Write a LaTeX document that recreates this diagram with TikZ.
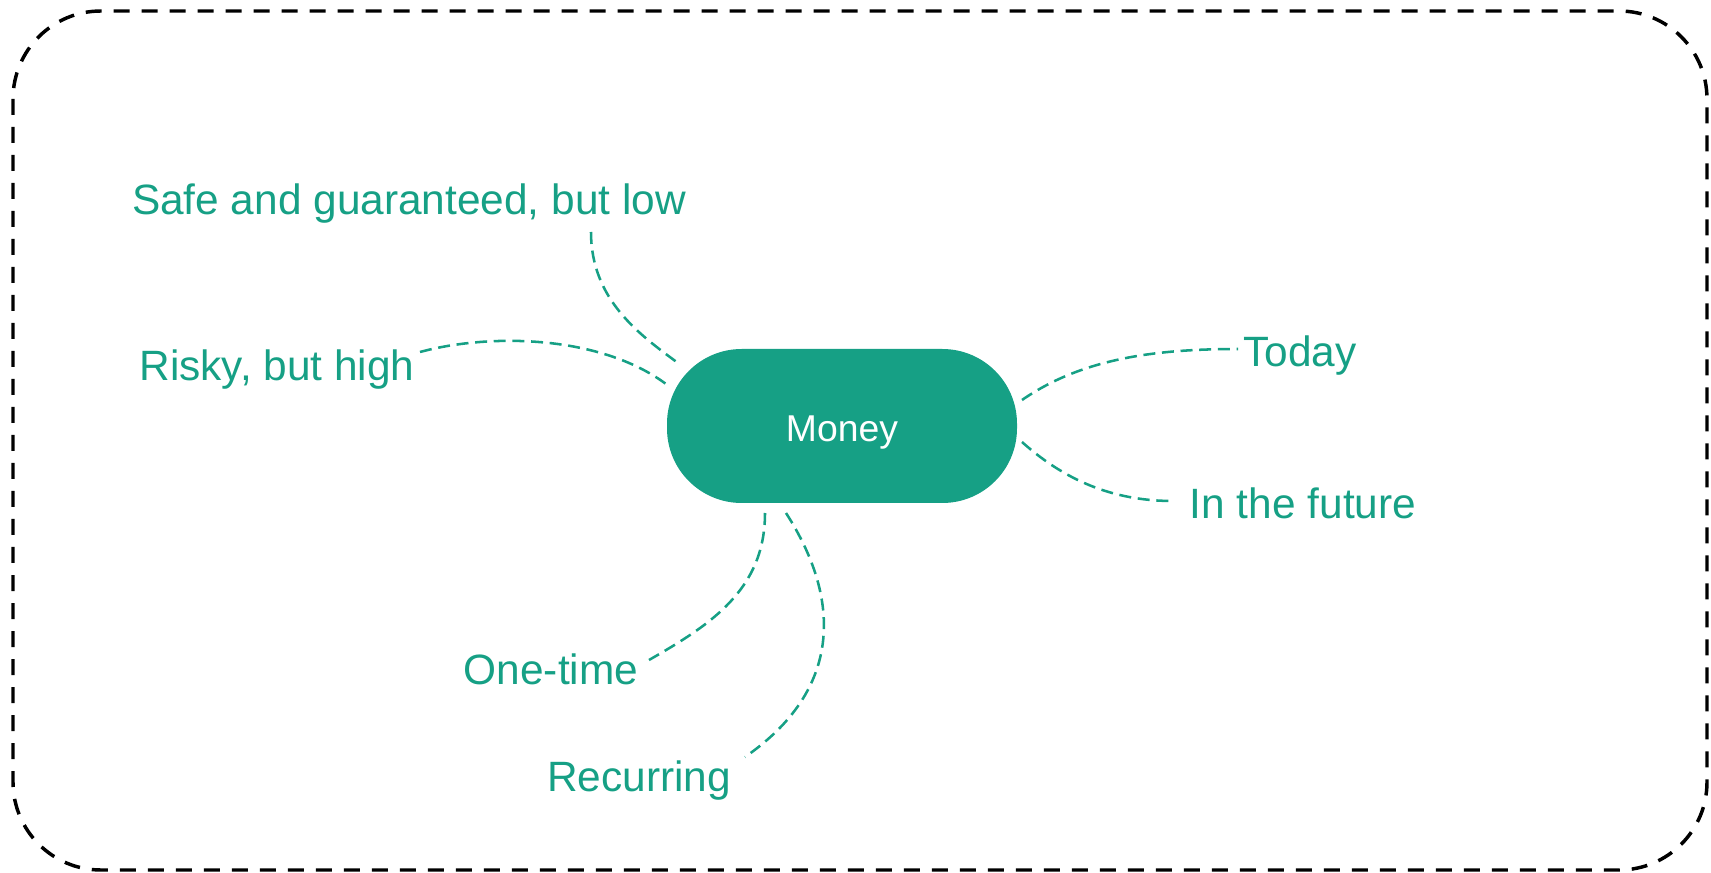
\documentclass[tikz,border=0pt]{standalone}
\usepackage{fontspec}
\setmainfont{Liberation Sans}
\definecolor{teal1}{RGB}{22,160,133}
\begin{document}
\begin{tikzpicture}[x=0.75pt,y=-0.75pt,
  frame/.style={draw=black,line width=2.6pt,dash pattern=on 12pt off 9pt,rounded corners=66pt},
  pill/.style={fill=teal1,draw=none,rounded corners=56pt,minimum width=262.5pt,minimum height=115.5pt,text=white,font=\fontsize{28}{33}\selectfont},
  lbl/.style={text=teal1,font=\fontsize{31.8}{38}\selectfont,anchor=base,inner sep=0pt},
  link/.style={draw=teal1,line width=1.9pt,dash pattern=on 9pt off 5pt}]
\useasboundingbox (0,0) rectangle (1711,873);
\draw[frame] (13,11) rectangle (1707,870);
\node[pill] (money) at (842,426) {\raisebox{-11.5pt}[0pt][0pt]{Money}};
\node[lbl] (safe) at (409,215) {Safe and guaranteed, but low};
\node[lbl] (risky) at (277,381) {Risky, but high};
\node[lbl] (today) at (1300,367) {Today};
\node[lbl] (future) at (1303,518) {In the future};
\node[lbl] (once) at (551,684) {One-time};
\node[lbl] (recur) at (639,791) {Recurring};
\coordinate (s1) at (591,232); \coordinate (s2) at (678,363);
\coordinate (r1) at (420,352); \coordinate (r2) at (666,384);
\coordinate (t1) at (1022,400); \coordinate (t2) at (1238,349);
\coordinate (f1) at (1022,442); \coordinate (f2) at (1173,501);
\coordinate (o1) at (765,513); \coordinate (o2) at (649,660);
\coordinate (c1) at (786,513); \coordinate (c2) at (745,757);
\draw[link] (s1) .. controls (591,300) and (640,335) .. (s2);
\draw[link] (r1) .. controls (490,333) and (600,335) .. (r2);
\draw[link] (t1) .. controls (1080,360) and (1150,349) .. (t2);
\draw[link] (f1) .. controls (1070,485) and (1120,501) .. (f2);
\draw[link] (o1) .. controls (765,590) and (710,625) .. (o2);
\draw[link] (c1) .. controls (842,600) and (842,690) .. (c2);
\end{tikzpicture}
\end{document}
